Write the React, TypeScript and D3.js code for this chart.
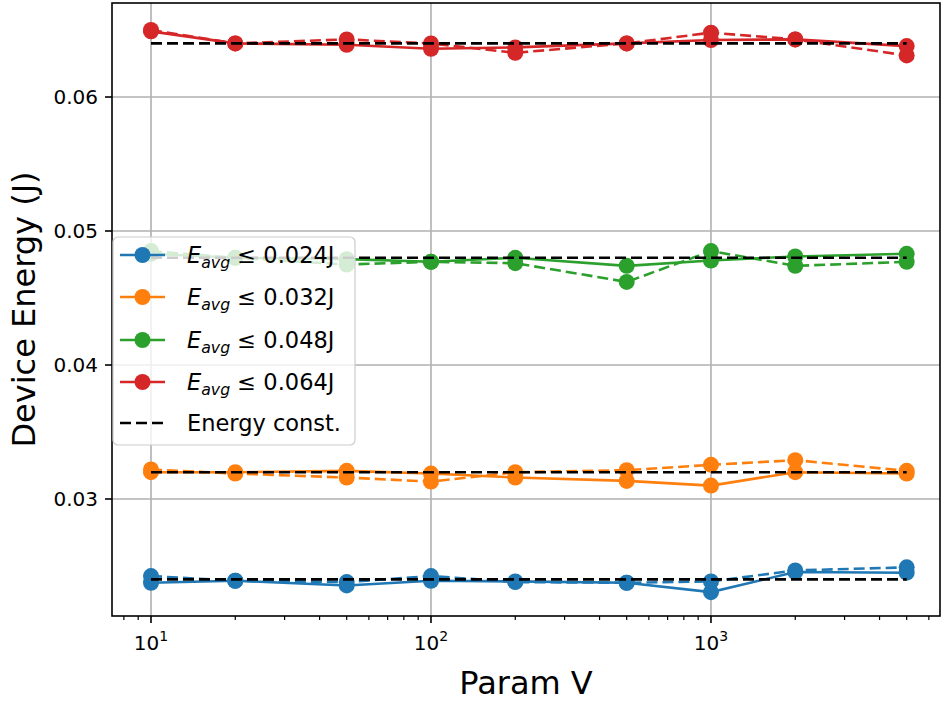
import React from "react";
import * as d3 from "d3";

const XS = [10, 20, 50, 100, 200, 500, 1000, 2000, 5000];
const CONSTS = [0.024, 0.032, 0.048, 0.064];
const LABELS = ["0.024", "0.032", "0.048", "0.064"];
const COLORS = ["#1f77b4", "#ff7f0e", "#2ca02c", "#d62728"];

const blueSolid = [0.02375, 0.0239, 0.02355, 0.0239, 0.02385, 0.02375, 0.02305, 0.02455, 0.0245];
const blueDashed = [0.02425, 0.0239, 0.0238, 0.02425, 0.0238, 0.02375, 0.02385, 0.02467, 0.0249];
const orangeSolid = [0.032, 0.032, 0.0321, 0.0319, 0.0316, 0.03135, 0.031, 0.032, 0.0319];
const orangeDashed = [0.0322, 0.0319, 0.0316, 0.0313, 0.032, 0.03215, 0.03255, 0.0329, 0.0321];
const greenSolid = [0.0483, 0.048, 0.0479, 0.0477, 0.048, 0.0474, 0.0478, 0.0481, 0.0483];
const greenDashed = [0.0485, 0.048, 0.0475, 0.0477, 0.0476, 0.0462, 0.0485, 0.0474, 0.0477];
const redSolid = [0.0649, 0.064, 0.0639, 0.0636, 0.0637, 0.064, 0.06425, 0.0643, 0.0638];
const redDashed = [0.065, 0.064, 0.0643, 0.064, 0.0633, 0.064, 0.0648, 0.0643, 0.0631];

const SOLIDS = [blueSolid, orangeSolid, greenSolid, redSolid];
const DASHEDS = [blueDashed, orangeDashed, greenDashed, redDashed];

const Y_TICKS = [0.03, 0.04, 0.05, 0.06];
const X_MAJOR = [10, 100, 1000];
const X_EXP = ["1", "2", "3"];

const W = 944, H = 702;
const L = 112, R = 940, T = 3, B = 616;
const FONT = "'DejaVu Sans', sans-serif";

export default function App() {
  const x = d3.scaleLog().domain([Math.pow(10, 0.8607), Math.pow(10, 3.818)]).range([L, R]);
  const y = d3.scaleLinear().domain([0.021269, 0.067015]).range([B, T]);
  const line = d3.line<number>().x((_, i) => x(XS[i])).y((d) => y(d));

  const minor: number[] = [];
  for (let e = 0; e < 4; e++) {
    for (let m = 2; m <= 9; m++) {
      const v = m * Math.pow(10, e);
      if (x(v) >= L && x(v) <= R) minor.push(v);
    }
  }

  const lw = 2.6;
  const r = 8;
  const dash = "11,5";

  const legX = 113, legY = 237, legW = 242, legH = 208;
  const rows = [255, 297, 340, 382, 423];

  return (
    <svg width={W} height={H} style={{ position: "absolute", left: 0, top: 0, background: "#fff" }} fontFamily={FONT}>
      <rect x={0} y={0} width={W} height={H} fill="#fff" />
      {/* grid */}
      <g stroke="#b0b0b0" strokeWidth={1.6}>
        {X_MAJOR.map((v) => (
          <line key={"gx" + v} x1={x(v)} x2={x(v)} y1={T} y2={B} />
        ))}
        {Y_TICKS.map((v) => (
          <line key={"gy" + v} x1={L} x2={R} y1={y(v)} y2={y(v)} />
        ))}
      </g>
      {/* series */}
      {SOLIDS.map((s, k) => (
        <g key={"s" + k}>
          <path d={line(s) || ""} fill="none" stroke={COLORS[k]} strokeWidth={lw} />
          {s.map((v, i) => (
            <circle key={i} cx={x(XS[i])} cy={y(v)} r={r} fill={COLORS[k]} />
          ))}
          <path d={line(DASHEDS[k]) || ""} fill="none" stroke={COLORS[k]} strokeWidth={lw} strokeDasharray={dash} />
          {DASHEDS[k].map((v, i) => (
            <circle key={"d" + i} cx={x(XS[i])} cy={y(v)} r={r} fill={COLORS[k]} />
          ))}
          <line x1={x(XS[0])} x2={x(XS[XS.length - 1])} y1={y(CONSTS[k])} y2={y(CONSTS[k])} stroke="#000" strokeWidth={lw} strokeDasharray={dash} />
        </g>
      ))}
      {/* spines */}
      <rect x={L} y={T} width={R - L} height={B - T} fill="none" stroke="#000" strokeWidth={1.6} />
      {/* y ticks */}
      {Y_TICKS.map((v) => (
        <g key={"yt" + v}>
          <line x1={L - 7} x2={L} y1={y(v)} y2={y(v)} stroke="#000" strokeWidth={1.6} />
          <text x={L - 14} y={y(v)} dy="0.35em" textAnchor="end" fontSize={20} fill="#000">
            {v.toFixed(2)}
          </text>
        </g>
      ))}
      {/* x ticks */}
      {minor.map((v) => (
        <line key={"mx" + v} x1={x(v)} x2={x(v)} y1={B} y2={B + 4} stroke="#000" strokeWidth={1.2} />
      ))}
      {X_MAJOR.map((v, i) => (
        <g key={"xt" + v}>
          <line x1={x(v)} x2={x(v)} y1={B} y2={B + 7} stroke="#000" strokeWidth={1.6} />
          <text x={x(v)} y={650} textAnchor="middle" fontSize={20} fill="#000">
            10
            <tspan fontSize={14} dy={-9}>
              {X_EXP[i]}
            </tspan>
          </text>
        </g>
      ))}
      {/* axis labels */}
      <text x={(L + R) / 2} y={694} textAnchor="middle" fontSize={32} fill="#000">
        Param V
      </text>
      <text transform={`translate(35,${(T + B) / 2}) rotate(-90)`} textAnchor="middle" fontSize={32} fill="#000">
        Device Energy (J)
      </text>
      {/* legend */}
      <rect x={legX} y={legY} width={legW} height={legH} rx={5} fill="#fff" fillOpacity={0.8} stroke="#cccccc" strokeWidth={1.2} />
      {COLORS.map((c, k) => (
        <g key={"lg" + k}>
          <line x1={120} x2={165} y1={rows[k]} y2={rows[k]} stroke={c} strokeWidth={lw} />
          <circle cx={142.5} cy={rows[k]} r={r} fill={c} />
          <text x={187} y={rows[k]} dy="0.36em" fontSize={22.5} fill="#000">
            <tspan fontStyle="italic">E</tspan>
            <tspan fontStyle="italic" fontSize={15.75} dy={5}>avg</tspan>
            <tspan dy={-5}>{" \u2264 " + LABELS[k] + "J"}</tspan>
          </text>
        </g>
      ))}
      <line x1={120} x2={165} y1={rows[4]} y2={rows[4]} stroke="#000" strokeWidth={lw} strokeDasharray={dash} />
      <text x={187} y={rows[4]} dy="0.36em" fontSize={22.5} fill="#000">
        Energy const.
      </text>
    </svg>
  );
}
